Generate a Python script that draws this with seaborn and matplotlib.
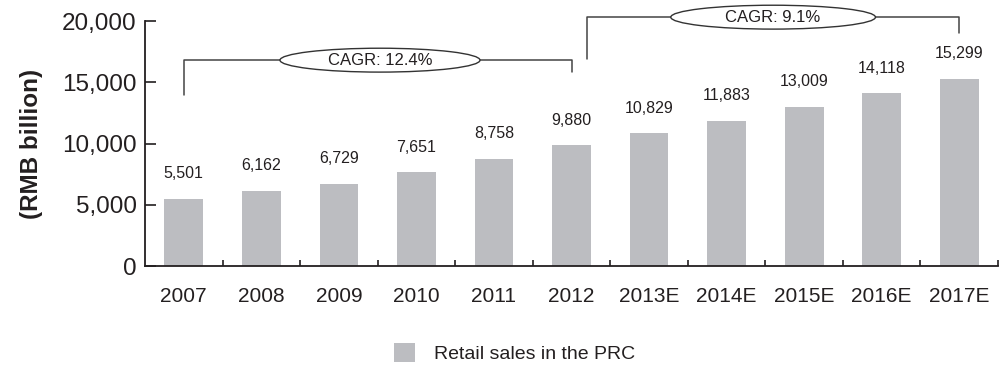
import matplotlib
matplotlib.use("Agg")
import matplotlib.pyplot as plt
import seaborn as sns
import pandas as pd
from matplotlib.patches import Ellipse, Patch
from matplotlib.ticker import FuncFormatter, FixedLocator

years = ["2007", "2008", "2009", "2010", "2011", "2012",
         "2013E", "2014E", "2015E", "2016E", "2017E"]
sales = [5501, 6162, 6729, 7651, 8758, 9880, 10829, 11883, 13009, 14118, 15299]
series_name = "Retail sales in the PRC"
cagr_labels = ["CAGR: 12.4%", "CAGR: 9.1%"]
cagr_spans = [("2007", "2012"), ("2012", "2017E")]

sns.set_style("white")
plt.rcParams["font.family"] = ["Liberation Sans", "DejaVu Sans"]
TXT = "#231f20"
BAR = "#bcbdc1"

df = pd.DataFrame({"year": years, "sales": sales})

fig = plt.figure(figsize=(10.03, 3.65), dpi=100)
ax = fig.add_axes([0.1446, 0.271, 0.8504, 0.671])

sns.barplot(data=df, x="year", y="sales", color=BAR, width=0.5,
            saturation=1, ax=ax, edgecolor="none")

ax.set_xlim(-0.5, len(years) - 0.5)
ax.set_ylim(0, 20000)
ax.set_yticks([0, 5000, 10000, 15000, 20000])
ax.yaxis.set_major_formatter(FuncFormatter(lambda v, p: f"{int(v):,}"))
ax.tick_params(axis="y", direction="in", length=8, width=1.2, colors=TXT,
               labelsize=17.5, pad=6, left=True)
ax.tick_params(axis="x", which="major", length=0, labelsize=15,
               labelcolor=TXT, pad=15)
ax.xaxis.set_minor_locator(FixedLocator([i + 0.5 for i in range(len(years))]))
ax.tick_params(axis="x", which="minor", direction="in", length=4.5,
               width=1.2, color=TXT, bottom=True)

for s in ["top", "right"]:
    ax.spines[s].set_visible(False)
for s in ["left", "bottom"]:
    ax.spines[s].set_color(TXT)
    ax.spines[s].set_linewidth(1.3)

ax.set_xlabel("")
ax.set_ylabel("(RMB billion)", fontsize=17.5, fontweight="bold", color=TXT,
              labelpad=14)

for i, v in enumerate(sales):
    ax.annotate(f"{v:,}", (i, v), xytext=(0, 12.5), textcoords="offset points",
                ha="center", va="bottom", fontsize=11.5, color=TXT)

# CAGR brackets
pos = {y: i for i, y in enumerate(years)}
line_kw = dict(color="#444444", lw=1.1, clip_on=False)
# bracket 1
a, b = pos[cagr_spans[0][0]], pos[cagr_spans[0][1]]
ax.plot([a, a, b, b], [13959, 16816, 16816, 15837], **line_kw)
e1 = Ellipse(((a + b) / 2 + 0.03, 16816), 2.58, 1950, fc="white",
             ec="#333333", lw=1.0, clip_on=False, zorder=5)
ax.add_patch(e1)
ax.text((a + b) / 2 + 0.03, 16816, cagr_labels[0], ha="center", va="center",
        fontsize=12, color=TXT, zorder=6)
# bracket 2
a, b = pos[cagr_spans[1][0]], pos[cagr_spans[1][1]]
ax.plot([a + 0.2, a + 0.2, b, b], [16898, 20327, 20327, 19020], **line_kw)
cx = (a + 0.2 + b) / 2
e2 = Ellipse((cx, 20327), 2.64, 1950, fc="white", ec="#333333", lw=1.0,
             clip_on=False, zorder=5)
ax.add_patch(e2)
ax.text(cx, 20327, cagr_labels[1], ha="center", va="center", fontsize=12,
        color=TXT, zorder=6)

fig.legend(handles=[Patch(facecolor=BAR, edgecolor="none", label=series_name)],
           loc="center", bbox_to_anchor=(0.513, 0.033), frameon=False,
           fontsize=14, handlelength=1.1, handleheight=1.1, handletextpad=1.0,
           labelcolor=TXT)

fig.savefig("out.png", dpi=100)
